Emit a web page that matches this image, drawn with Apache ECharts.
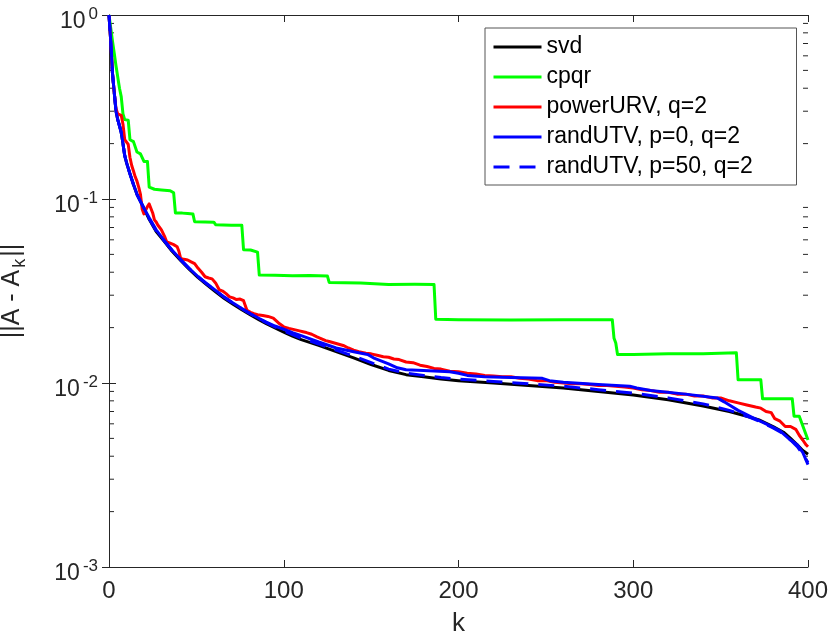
<!DOCTYPE html>
<html><head><meta charset="utf-8">
<script src="https://cdn.jsdelivr.net/npm/echarts@6/dist/echarts.min.js"></script>
<style>html,body{margin:0;padding:0;background:#fff}#c{width:830px;height:636px}</style>
</head><body><div id="c"></div>
<script>
// ---- data ----
const seriesNames = ['svd', 'cpqr', 'powerURV, q=2', 'randUTV, p=0, q=2', 'randUTV, p=50, q=2'];
const xTicks = [0, 100, 200, 300, 400];
const yTicks = [0.001, 0.01, 0.1, 1];
const minorTickValues = [0.002,0.003,0.004,0.005,0.006,0.007,0.008,0.009,
  0.02,0.03,0.04,0.05,0.06,0.07,0.08,0.09,
  0.2,0.3,0.4,0.5,0.6,0.7,0.8,0.9];

const kSvd = [0,1,2,3,4,5,6,7,8,9,10,12,14,16,18,20,23,27,31,36,41,46,51,56,61,66,71,76,81,86,90,95,100,105,110,120,130,140,150,160,170,180,190,200,220,240,260,280,300,320,340,355,365,372,380,386,390,394,397,400];
const svdVals = [1,0.72,0.48,0.38,0.30,0.27,0.25,0.23,0.2,0.172,0.158,0.137,0.12,0.106,0.097,0.089,0.0775,0.0665,0.0598,0.0522,0.0463,0.0414,0.0374,0.0342,0.0313,0.0288,0.0268,0.0250,0.0234,0.0220,0.0210,0.0199,0.0189,0.0180,0.0172,0.0160,0.0148,0.0137,0.0126,0.0117,0.0111,0.0108,0.0105,0.0103,0.0100,0.0097,0.0094,0.0090,0.0086,0.0081,0.0075,0.0070,0.0066,0.0063,0.0058,0.0054,0.0050,0.0046,0.0043,0.0041];

const kCpqr = [0,1,2,3,4,5,6,7,8,9,11,12,14,15,16,18,19,20,22,23,26,30,35,37,38,42,45,48,49,55,60,61,62,70,76,77,81,82,85,86,95,105,115,125,126,135,144,145,160,175,186,187,200,230,260,288,289,290,291,300,320,340,359,360,373,374,391,392,395,400];
const cpqrVals = [1,0.85,0.72,0.62,0.53,0.46,0.4,0.36,0.29,0.27,0.268,0.21,0.205,0.204,0.18,0.176,0.175,0.16,0.16,0.116,0.113,0.112,0.111,0.108,0.084,0.0838,0.0835,0.083,0.0752,0.075,0.0748,0.0725,0.0722,0.0721,0.072,0.053,0.0528,0.0515,0.0514,0.0386,0.0385,0.0383,0.0384,0.0381,0.0352,0.0351,0.035,0.0344,0.0343,0.0344,0.0343,0.0222,0.0221,0.022,0.0221,0.0221,0.0175,0.0165,0.0143,0.0143,0.0144,0.0144,0.0146,0.0104,0.0104,0.0082,0.0082,0.0066,0.0066,0.0049];

const kPower = [0,1,2,3,4,5,6,7,8,9,10,11,12,13,14,15,16,17,18,19,20,21,22,23,24,25,26,27,28,29,30,31,32,33,35,37,39,40,41,43,45,47,49,51,53,55,57,59,61,63,65,67,69,71,73,75,76,77,79,81,83,85,88,91,94,97,100,103,106,109,111,113,116,119,121,124,126,128,131,134,137,140,143,147,150,154,157,160,163,166,170,174,178,182,186,190,195,200,205,210,215,220,225,230,235,240,245,250,255,260,265,270,275,280,285,290,295,300,305,310,315,320,325,330,335,340,345,350,355,360,365,370,373,376,379,381,384,387,390,393,395,397,399,400];
const powerVals = [1,0.72,0.48,0.38,0.31,0.29,0.292,0.285,0.255,0.21,0.205,0.198,0.168,0.152,0.142,0.132,0.125,0.116,0.106,0.088,0.083,0.087,0.091,0.094,0.093,0.084,0.077,0.075,0.072,0.07,0.068,0.067,0.062,0.0585,0.0575,0.0565,0.055,0.052,0.0476,0.047,0.0466,0.0455,0.0445,0.042,0.040,0.0378,0.0372,0.0368,0.035,0.0322,0.0316,0.0306,0.0294,0.029,0.0284,0.0286,0.0292,0.028,0.0248,0.0242,0.0238,0.0235,0.0233,0.023,0.0225,0.0212,0.0202,0.0198,0.0195,0.0192,0.019,0.0188,0.0184,0.0178,0.0175,0.017,0.0168,0.0166,0.0163,0.016,0.0155,0.0151,0.0148,0.0145,0.0144,0.0141,0.0139,0.0138,0.0135,0.0134,0.013,0.0129,0.0125,0.0123,0.012,0.0119,0.0116,0.0115,0.0113,0.0112,0.011,0.0109,0.0108,0.0108,0.0106,0.0105,0.0103,0.0103,0.0101,0.0100,0.0099,0.0099,0.0098,0.0097,0.0097,0.0096,0.0095,0.0094,0.0092,0.0091,0.0089,0.0089,0.0087,0.0087,0.0085,0.0085,0.0083,0.0083,0.0080,0.0078,0.0076,0.0074,0.0073,0.0070,0.0069,0.0064,0.0062,0.0058,0.0058,0.0056,0.0052,0.0049,0.0046,0.0045];

const kUtv0 = [0,1,2,3,4,5,6,7,8,9,10,12,14,16,18,20,23,27,31,36,41,46,51,56,61,66,71,76,81,86,90,95,100,105,110,120,130,140,148,152,160,165,170,180,195,200,205,215,230,248,252,260,280,298,302,310,330,348,352,360,368,376,384,390,394,397,400];
const utv0Vals = [1,0.72,0.48,0.38,0.30,0.27,0.25,0.23,0.2,0.172,0.158,0.137,0.12,0.106,0.097,0.089,0.079,0.068,0.0605,0.0528,0.0469,0.0419,0.0378,0.0346,0.0318,0.0293,0.0272,0.0254,0.0238,0.0224,0.0214,0.0204,0.0196,0.0188,0.0181,0.0167,0.0155,0.0148,0.0143,0.0136,0.0127,0.0121,0.0118,0.0117,0.0115,0.0113,0.0110,0.0108,0.0107,0.0106,0.0103,0.0101,0.0098,0.0096,0.0094,0.0091,0.0087,0.0083,0.0079,0.0071,0.0065,0.0060,0.0055,0.0049,0.0046,0.0042,0.0036];

const kUtv50 = kSvd;
const utv50Vals = [1,0.72,0.48,0.38,0.30,0.27,0.25,0.23,0.2,0.172,0.158,0.137,0.12,0.106,0.097,0.089,0.078,0.067,0.0602,0.0527,0.0467,0.0418,0.0378,0.0346,0.0317,0.0292,0.0271,0.0253,0.0237,0.0223,0.0213,0.0202,0.0192,0.0183,0.0175,0.0163,0.0151,0.014,0.0129,0.0119,0.0113,0.011,0.0107,0.0105,0.0102,0.0099,0.0096,0.0092,0.0088,0.0083,0.0077,0.0071,0.0066,0.0062,0.0057,0.0053,0.0049,0.0045,0.0041,0.0037];

const colors = ['#000000', '#00ff00', '#ff0000', '#0000ff', '#0000ff'];

// ---- chart ----
const FONT = '"Liberation Sans", Arial, Helvetica, sans-serif';
const AX = '#262626';
const pairs = (ks, vs) => ks.map((k, i) => [k, vs[i]]);
function lineSeries(idx, ks, vs, dash) {
  return {
    type: 'line', name: seriesNames[idx], data: pairs(ks, vs),
    xAxisIndex: 0, yAxisIndex: 0, symbol: 'none', showSymbol: false,
    smooth: false, clip: true, z: 3 + idx, emphasis: { disabled: true },
    lineStyle: { color: colors[idx], width: 3, type: dash || 'solid', cap: 'butt', join: 'round' },
    itemStyle: { color: colors[idx] }
  };
}
const xMin = xTicks[0], xMax = xTicks[xTicks.length - 1];
const yMin = yTicks[0], yMax = yTicks[yTicks.length - 1];

const chart = echarts.init(document.getElementById('c'), null, { renderer: 'canvas' });
chart.setOption({
  animation: false,
  backgroundColor: '#ffffff',
  textStyle: { fontFamily: FONT },
  grid: { left: 109, right: 22, top: 15, bottom: 69, containLabel: false, outerBoundsMode: 'none' },
  legend: {
    data: seriesNames, orient: 'vertical', left: 485, top: 28,
    padding: [7, 8, 6, 7], itemWidth: 48, itemHeight: 24, itemGap: 6,
    backgroundColor: '#ffffff', borderColor: '#555555', borderWidth: 1,
    selectedMode: false,
    itemStyle: { opacity: 0, borderWidth: 0 },
    lineStyle: { width: 3 },
    textStyle: { fontSize: 23, color: '#000', fontFamily: FONT, width: 242, lineHeight: 24 }
  },
  xAxis: [{
    type: 'value', min: xMin, max: xMax, interval: 100, position: 'bottom',
    axisLine: { show: true, onZero: false, lineStyle: { color: AX, width: 1 } },
    axisTick: { inside: true, length: 7, lineStyle: { color: AX } },
    axisLabel: { fontSize: 24, color: AX, margin: 12, fontFamily: FONT },
    splitLine: { show: false },
    name: 'k', nameLocation: 'middle', nameGap: 44,
    nameTextStyle: { fontSize: 26, color: AX, fontFamily: FONT }
  }, {
    type: 'value', min: xMin, max: xMax, interval: 100, position: 'top',
    axisLine: { show: true, onZero: false, lineStyle: { color: AX, width: 1 } },
    axisTick: { inside: true, length: 7, lineStyle: { color: AX } },
    axisLabel: { show: false }, splitLine: { show: false }
  }],
  yAxis: [{
    type: 'log', logBase: 10, min: yMin, max: yMax, position: 'left',
    axisLine: { show: true, lineStyle: { color: AX, width: 1 } },
    axisTick: { inside: true, length: 7, lineStyle: { color: AX } },
    axisLabel: {
      color: AX, margin: 11, padding: [9, 0, 0, 0],
      formatter: v => '{b|10}{s|' + Math.round(Math.log10(v)) + '}',
      rich: {
        b: { fontSize: 23, color: AX, fontFamily: FONT, verticalAlign: 'bottom' },
        s: { fontSize: 17, color: AX, fontFamily: FONT, verticalAlign: 'bottom', padding: [0, 0, 11, 3] }
      }
    },
    splitLine: { show: false },
    name: '{n|||A - A}{k|k}{n|||}', nameLocation: 'middle', nameRotate: 90, nameGap: 80,
    nameTextStyle: {
      rich: {
        n: { fontSize: 25, color: AX, fontFamily: FONT, verticalAlign: 'bottom', padding: [0, 0, 4, 0] },
        k: { fontSize: 18, color: AX, fontFamily: FONT, verticalAlign: 'bottom', padding: [0, 2, 0, 2] }
      }
    }
  }, {
    type: 'log', logBase: 10, min: yMin, max: yMax, position: 'right',
    axisLine: { show: true, lineStyle: { color: AX, width: 1 } },
    axisTick: { inside: true, length: 7, lineStyle: { color: AX } },
    axisLabel: { show: false }, splitLine: { show: false }
  }],
  series: [
    {
      type: 'custom', name: 'minorTicks', xAxisIndex: 0, yAxisIndex: 0, silent: true, z: 2,
      data: minorTickValues.map(v => [xMin, v]),
      renderItem: (params, api) => {
        const v = api.value(1);
        const a = api.coord([xMin, v]);
        const b = api.coord([xMax, v]);
        const st = { stroke: AX, lineWidth: 1 };
        return { type: 'group', children: [
          { type: 'line', shape: { x1: a[0], y1: a[1], x2: a[0] + 5, y2: a[1] }, style: st },
          { type: 'line', shape: { x1: b[0] - 5, y1: b[1], x2: b[0], y2: b[1] }, style: st }
        ] };
      }
    },
    lineSeries(0, kSvd, svdVals),
    lineSeries(1, kCpqr, cpqrVals),
    lineSeries(2, kPower, powerVals),
    lineSeries(3, kUtv0, utv0Vals),
    lineSeries(4, kUtv50, utv50Vals, [16, 10])
  ]
});
</script>
</body></html>
